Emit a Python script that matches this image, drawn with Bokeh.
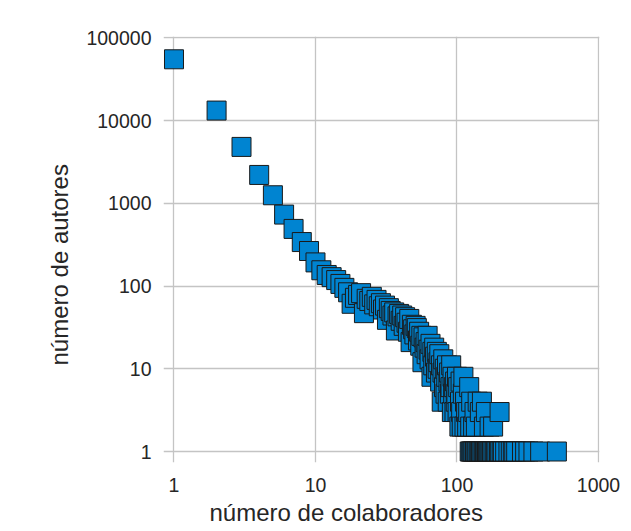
from bokeh.plotting import figure
from bokeh.models import FixedTicker, NumeralTickFormatter, Range1d, ColumnDataSource, Title
from bokeh.embed import file_html
from bokeh.resources import INLINE

# --- data ---
colaboradores = [1, 2, 3, 4, 5, 6, 7, 8, 9, 10, 11, 12, 13, 14, 15, 16, 17, 18, 19, 20,
                 21, 22, 23, 24, 25, 26, 27, 28, 29, 30, 31, 32, 33, 34, 35, 36, 37, 38, 39, 40,
                 41, 42, 43, 44, 45, 46, 47, 48, 49, 50, 51, 52, 53, 54, 55, 56, 57, 58, 59, 60,
                 61, 62, 63, 64, 65, 66, 67, 68, 69, 70, 71, 72, 73, 74, 75, 76, 77, 78, 79, 80,
                 81, 82, 83, 84, 85, 86, 87, 88, 89, 90, 91, 92, 93, 94, 95, 96, 97, 98, 99, 100,
                 101, 102, 104, 105, 106, 107, 108, 110, 111, 113, 114, 116, 118, 120, 122, 124,
                 126, 130, 133, 136, 140, 145, 150, 155, 160, 170, 180, 200]
autores = [55000, 13200, 4800, 2200, 1250, 730, 490, 340, 265, 193, 155, 136, 128, 118, 106, 95, 84, 61, 72, 78,
           82, 47, 70, 66, 74, 60, 68, 57, 62, 52, 58, 39, 54, 50, 44, 48, 29, 43, 46, 38,
           44, 33, 42, 36, 28, 40, 21, 34, 30, 26, 33, 31, 22, 28, 19, 25, 12, 24, 18, 21,
           15, 25, 17, 13, 20, 8, 16, 11, 18, 14, 9, 16, 10, 12, 15, 7, 11, 4, 9, 13,
           6, 10, 5, 8, 11, 4, 7, 9, 5, 6, 11, 3, 8, 5, 6, 3, 7, 4, 5, 8,
           3, 6, 2, 4, 7, 3, 2, 5, 8, 2, 4, 3, 2, 3, 6, 2,
           4, 2, 3, 2, 4, 3, 4, 2, 3, 2, 2, 3]

# tail: collaborator counts held by a single author
colaboradores_cauda = [123, 125, 127, 129, 131, 134, 137, 139, 142, 144, 146, 148, 151, 154,
                       156, 158, 161, 163, 166, 169, 172, 175, 177, 181, 185, 189, 193, 198,
                       202, 207, 211, 219, 231, 240, 248, 254, 262, 288, 303, 320, 347, 387, 508]
autores_cauda = [1, 1, 1, 1, 1, 1, 1, 1, 1, 1, 1, 1, 1, 1,
                 1, 1, 1, 1, 1, 1, 1, 1, 1, 1, 1, 1, 1, 1,
                 1, 1, 1, 1, 1, 1, 1, 1, 1, 1, 1, 1, 1, 1, 1]

x_ticks = [1, 10, 100, 1000]
y_ticks = [1, 10, 100, 1000, 10000, 100000]
x_label = "número de colaboradores"
y_label = "número de autores"

source = ColumnDataSource(data=dict(x=colaboradores + colaboradores_cauda,
                                    y=autores + autores_cauda))

GRID = "#c4c4c4"
TEXT = "#262626"
FONT = "Liberation Sans"

p = figure(x_axis_type="log", y_axis_type="log",
           x_range=Range1d(0.843, 1016.5), y_range=Range1d(0.7364, 103680),
           frame_width=436, frame_height=426,
           min_border_left=163, min_border_right=24, min_border_top=36, min_border_bottom=68,
           output_backend="svg", toolbar_location=None)

p.outline_line_color = None
p.background_fill_color = "white"
p.border_fill_color = "white"

p.scatter("x", "y", source=source, marker="square", size=19,
          fill_color="#0084d1", line_color="#1a1a1a", line_width=1)

for ax, ticks in ((p.xaxis, x_ticks), (p.yaxis, y_ticks)):
    ax.ticker = FixedTicker(ticks=ticks)
    ax.formatter = NumeralTickFormatter(format="0")
    ax.axis_line_color = None
    ax.major_tick_line_color = None
    ax.minor_tick_line_color = None
    ax.major_tick_in = 0
    ax.major_tick_out = 0
    ax.major_label_text_font = FONT
    ax.major_label_text_font_size = "19.5px"
    ax.major_label_text_color = TEXT

p.xaxis.major_label_standoff = 15
p.yaxis.major_label_standoff = 12

# axis titles, placed off-centre as in the reference
xt = Title(text=x_label, align="left", offset=46, standoff=4,
           text_font=FONT, text_font_size="24px", text_font_style="normal", text_color=TEXT)
yt = Title(text=y_label, align="left", offset=97, standoff=22,
           text_font=FONT, text_font_size="24px", text_font_style="normal", text_color=TEXT)
p.add_layout(xt, "below")
p.add_layout(yt, "left")

p.xgrid.ticker = FixedTicker(ticks=x_ticks)
p.ygrid.ticker = FixedTicker(ticks=y_ticks)
for g in (p.xgrid, p.ygrid):
    g.grid_line_color = GRID
    g.grid_line_width = 1.3
    g.level = "underlay"

open("out.html", "w").write(file_html(p, INLINE))
